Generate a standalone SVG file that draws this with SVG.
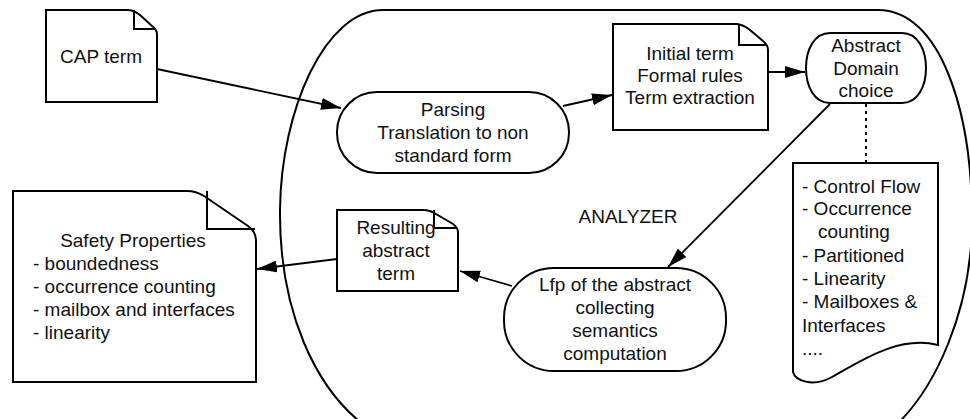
<svg xmlns="http://www.w3.org/2000/svg" width="970" height="419" viewBox="0 0 970 419">
<defs>
<style>
.s{fill:#fff;stroke:#000;stroke-width:2}
.f{fill:none;stroke:#000;stroke-width:2}
.t{font-family:"Liberation Sans",Arial,sans-serif;font-size:19px;fill:#111}
.c{text-anchor:middle}
.e{fill:none;stroke:#000;stroke-width:1.8}
</style>
<marker id="ah" markerWidth="12" markerHeight="10" refX="11" refY="5" orient="auto" markerUnits="userSpaceOnUse">
<path d="M0,0 L12,5 L0,10 Z" fill="#000"/>
</marker>
<marker id="ah2" markerWidth="20" markerHeight="12" refX="20" refY="6" orient="auto" markerUnits="userSpaceOnUse">
<path d="M0,0 L20,6 L0,12 Z" fill="#000"/>
</marker>
</defs>
<rect width="970" height="419" fill="#fff"/>

<g id="analyzer">
<path class="s" d="M383,10 L878,10 C940,10 972,110 972,220 C972,310 935,390 893,428 L368,428 C315,390 279,310 280,210 C281,110 325,10 383,10 Z"/>
<text class="t c" x="628" y="223">ANALYZER</text>
</g>

<g id="connectors">
<line class="e" x1="157" y1="69" x2="341" y2="108" marker-end="url(#ah2)"/>
<line class="e" x1="563" y1="106" x2="612" y2="95" marker-end="url(#ah2)"/>
<line class="e" x1="769" y1="72" x2="805" y2="72" marker-end="url(#ah2)"/>
<line class="e" x1="830" y1="104" x2="668" y2="267" marker-end="url(#ah2)"/>
<line class="e" x1="512" y1="286" x2="460" y2="271" marker-end="url(#ah2)"/>
<line class="e" x1="337" y1="259" x2="257" y2="269" marker-end="url(#ah2)"/>
<line x1="866" y1="104" x2="866" y2="163" stroke="#000" stroke-width="2" stroke-dasharray="3,4"/>
</g>

<g id="cap-term">
<path class="s" d="M46,10 L127,10 Q134,10 140,15 L152,26 Q157,30 157,34 L157,102 L46,102 Z"/>
<path class="f" d="M134,10 L134,29 L156,29"/>
<text class="t c" x="101" y="63">CAP term</text>
</g>

<g id="parsing">
<rect class="s" x="337" y="92" width="232" height="81" rx="40" ry="40"/>
<text class="t c" x="453" y="116">Parsing</text>
<text class="t c" x="453" y="139">Translation to non</text>
<text class="t c" x="453" y="162">standard form</text>
</g>

<g id="initial-term">
<path class="s" d="M613,24 L737,24 Q744,25 750,30 L763,41 Q768,45 768,50 L768,130 L613,130 Z"/>
<path class="f" d="M739,24 L739,45 L766,45"/>
<text class="t c" x="690" y="60">Initial term</text>
<text class="t c" x="690" y="82">Formal rules</text>
<text class="t c" x="690" y="104">Term extraction</text>
</g>

<g id="abstract-domain">
<path class="s" d="M830,33 L902,33 C918,33 926,50 926,68 C926,86 918,103 902,103 L830,103 C814,103 806,86 806,68 C806,50 814,33 830,33 Z"/>
<text class="t c" x="866" y="52">Abstract</text>
<text class="t c" x="866" y="75">Domain</text>
<text class="t c" x="866" y="97">choice</text>
</g>

<g id="domain-list">
<path class="s" d="M793,163 L938,163 L938,345 C900,335 862,360 832,377 C812,388 795,380 793,372 Z"/>
<text class="t" x="802" y="193">- Control Flow</text>
<text class="t" x="802" y="215">- Occurrence</text>
<text class="t" x="818" y="238">counting</text>
<text class="t" x="802" y="262">- Partitioned</text>
<text class="t" x="802" y="285">- Linearity</text>
<text class="t" x="802" y="308">- Mailboxes &amp;</text>
<text class="t" x="802" y="332">Interfaces</text>
<text class="t" x="802" y="355">....</text>
</g>

<g id="lfp">
<rect class="s" x="504" y="268" width="222" height="103" rx="50" ry="50"/>
<text class="t c" x="615" y="291">Lfp of the abstract</text>
<text class="t c" x="615" y="314">collecting</text>
<text class="t c" x="615" y="337">semantics</text>
<text class="t c" x="615" y="360">computation</text>
</g>

<g id="resulting-term">
<path class="s" d="M337,210 L423,210 Q430,210 436,214 L453,224 Q458,228 458,232 L458,291 L337,291 Z"/>
<path class="f" d="M434,210 L434,228 L457,228"/>
<text class="t c" x="396" y="234">Resulting</text>
<text class="t c" x="396" y="257">abstract</text>
<text class="t c" x="396" y="280">term</text>
</g>

<g id="safety">
<path class="s" d="M13,191 L187,191 Q196,191 204,196 L248,226 Q256,232 256,240 L256,382 L13,382 Z"/>
<path class="f" d="M207,191 L207,229 L255,229"/>
<text class="t c" x="133" y="247">Safety Properties</text>
<text class="t" x="33" y="270">- boundedness</text>
<text class="t" x="33" y="293">- occurrence counting</text>
<text class="t" x="33" y="316">- mailbox and interfaces</text>
<text class="t" x="33" y="339">- linearity</text>
</g>
</svg>
